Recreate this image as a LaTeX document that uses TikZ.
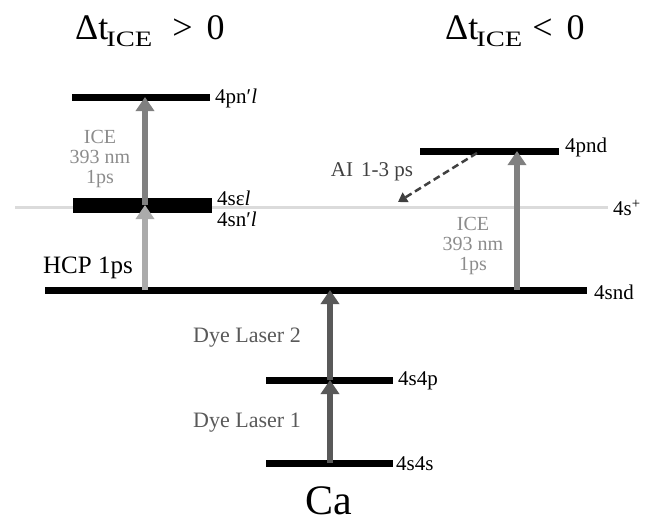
\documentclass[tikz,border=0pt]{standalone}
\usepackage{fontspec}
\usepackage{graphicx}
\setmainfont{Liberation Serif}
\usetikzlibrary{arrows.meta}
\definecolor{hcpgray}{gray}{0.67}
\definecolor{icegray}{gray}{0.50}
\definecolor{icetext}{gray}{0.55}
\definecolor{dyegray}{gray}{0.35}
\definecolor{aigray}{gray}{0.25}
\definecolor{iongray}{gray}{0.86}
\newcommand{\icesub}{\raisebox{-7pt}{\fontsize{22}{22}\selectfont\scalebox{1.3}[1]{ICE}}}
\tikzset{
  level/.style={line width=7pt},
  exc/.style={line width=6pt, -{Triangle[length=14pt,width=18pt]}},
  state/.style={anchor=west, inner sep=0pt, font=\fontsize{21}{21}\selectfont},
  gtext/.style={align=center, inner sep=0pt, text=icetext, font=\fontsize{20}{20}\selectfont},
  dtext/.style={inner sep=0pt, text=dyegray, font=\fontsize{22}{22}\selectfont},
}
\begin{document}
\begin{tikzpicture}[x=1pt, y=-1pt]
  \useasboundingbox (0,0) rectangle (657,522);
  % titles
  \node[anchor=base west, inner sep=0pt] (tleft) at (75,39) {\fontsize{36}{36}\selectfont Δt\hspace{-2pt}\icesub\hspace{20pt}>\hspace{14pt}0};
  \node[anchor=base west, inner sep=0pt] (tright) at (445,39) {\fontsize{36}{36}\selectfont Δt\hspace{-2pt}\icesub\hspace{10pt}<\hspace{14pt}0};
  % ionisation limit
  \draw[iongray, line width=3pt] (15,207) -- (608,207) coordinate (ion);
  \node[state] (lion) at (613,208) {4s\textsuperscript{+}};
  % levels
  \draw[level] (72,97) -- (210,97);
  \draw[level, line width=15pt] (73,205) -- (212,205);
  \draw[level] (45,290) -- (587,290);
  \draw[level] (420,151) -- (559,151);
  \draw[level] (266,380) -- (393,380);
  \draw[level] (266,463) -- (393,463);
  \coordinate (pnl) at (145,97);
  \coordinate (sel) at (145,205);
  \coordinate (sndl) at (145,290);
  \coordinate (sndr) at (517,290);
  \coordinate (pnd) at (517,151);
  \coordinate (sndm) at (330,290);
  \coordinate (s4p) at (330,380);
  \coordinate (s4s) at (330,463);
  \coordinate (aifrom) at (477,153);
  \coordinate (aito) at (398,202);
  % level names
  \node[state] (lpnl) at (215,98) {4pn′\textit{l}};
  \node[state] (lsel) at (217,198) {4sε\textit{l}};
  \node[state] (lsnl) at (217,219) {4sn′\textit{l}};
  \node[state] (lsnd) at (594,292) {4snd};
  \node[state] (lpnd) at (565,147) {4pnd};
  \node[state] (ls4p) at (398,381) {4s4p};
  \node[state] (ls4s) at (396,464) {4s4s};
  % excitations
  \draw[exc, hcpgray] (sndl) -- (sel);
  \draw[exc, icegray] (sel) -- (pnl);
  \draw[exc, icegray] (sndr) -- (pnd);
  \draw[exc, dyegray] (s4s) -- (s4p);
  \draw[exc, dyegray] (s4p) -- (sndm);
  \draw[aigray, line width=2.5pt, dash pattern=on 7pt off 4pt, -{Triangle[length=9pt,width=11pt]}] (aifrom) -- (aito);
  % labels
  \node[gtext] (iceleft) at (100,159) {ICE\\393 nm\\1ps};
  \node[gtext] (iceright) at (473,246) {ICE\\393 nm\\1ps};
  \node[inner sep=0pt, font=\fontsize{25}{25}\selectfont] (hcp) at (88,268) {HCP 1ps};
  \node[inner sep=0pt, text=aigray, font=\fontsize{21}{21}\selectfont] (ai) at (372,172) {AI\hspace{8pt}1-3 ps};
  \node[dtext] (dye2) at (247,338) {Dye Laser 2};
  \node[dtext] (dye1) at (247,423) {Dye Laser 1};
  \node[anchor=base, inner sep=0pt, font=\fontsize{42}{42}\selectfont] (ca) at (329,514) {Ca};
\end{tikzpicture}
\end{document}
